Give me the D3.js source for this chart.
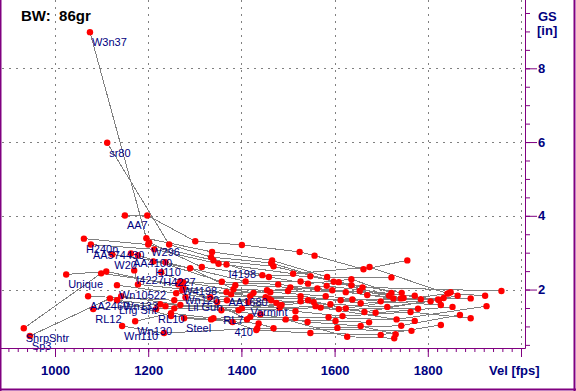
<!DOCTYPE html>
<html>
<head>
<meta charset="utf-8">
<script src="https://cdnjs.cloudflare.com/ajax/libs/d3/7.8.5/d3.min.js"></script>
<style>
body { margin: 0; background: #fff; }
svg { display: block; }
</style>
</head>
<body>
<svg width="576" height="391"></svg>
<script>
// group size vs velocity, one line per powder
var title = 'BW:  86gr';
var velTicks = [1000, 1200, 1400, 1600, 1800, 2000];
var velLabels = [1000, 1200, 1400, 1600, 1800];
var gsTicks = [2, 4, 6, 8];

var loadNames = ['W3n37', 'sr80', 'AA7', 'H240n', 'AA574430', 'W296', 'AA4100', 'W20',
  'H110', 'I4227', 'H4227', 'Unique', 'Wn10522', 'AA2460', 'RL12', 'Wn133', 'Lng Sht',
  'RL10', 'Wn130', 'Wn110', 'ShrpShtr', 'Sp3', 'Steel', 'Lil Gun', 'Wn120', 'W4198',
  'I4198', 'AA1680', 'Varmint', 'RL7', '410'];

var loadVel = [
  [1075, 1196, 1337, 1466, 1584, 1722],
  [1112, 1245, 1335, 1464, 1598, 1717],
  [1150, 1198, 1301, 1401, 1525, 1557, 1662, 1756],
  [1062, 1200, 1340, 1469, 1609, 1744],
  [1077, 1213, 1351, 1511, 1675, 1842],
  [1202, 1315, 1459, 1543, 1636, 1722],
  [1163, 1178, 1358, 1479, 1595, 1772],
  [1123, 1237, 1409, 1527, 1636, 1670],
  [1211, 1290, 1383, 1500, 1654, 1748],
  [1170, 1178, 1378, 1455, 1563, 1726],
  [1228, 1275, 1426, 1583, 1822, 1849],
  [1024, 1110, 1275, 1459, 1638, 1834],
  [1133, 1260, 1369, 1464, 1591, 1713, 1824],
  [1071, 1256, 1475, 1527, 1609, 1779],
  [1082, 1226, 1401, 1543, 1624, 1845, 1923],
  [1142, 1269, 1486, 1555, 1664, 1864],
  [1133, 1237, 1482, 1559, 1688, 1853],
  [1217, 1256, 1394, 1570, 1733, 1926],
  [1172, 1249, 1340, 1419, 1516, 1587, 1772],
  [1144, 1234, 1434, 1606, 1743, 1869],
  [933, 1099, 1265, 1412, 1602, 1674],
  [946, 1118, 1249, 1335, 1495, 1627, 1728],
  [1277, 1437, 1469, 1765],
  [1280, 1348, 1452, 1613, 1785, 1892],
  [1273, 1333, 1419, 1527, 1656, 1806],
  [1269, 1387, 1505, 1624, 1742],
  [1368, 1445, 1548, 1660, 1958],
  [1368, 1462, 1581, 1699, 1828],
  [1415, 1516, 1617, 1763, 1892],
  [1357, 1441, 1542, 1656, 1731],
  [1381, 1432, 1548, 1699, 1828]
];

var loadGs = [
  [8.98, 3.39, 3.02, 2.79, 2.34, 2.33],
  [5.98, 3.22, 2.88, 2.72, 2.21, 1.83],
  [4.01, 4.01, 3.31, 3.21, 3.02, 2.92, 2.55, 2.79],
  [3.38, 3.22, 2.79, 2.63, 2.2, 1.91],
  [3.22, 3.09, 2.7, 2.43, 2.61, 1.89],
  [3.28, 2.61, 2.34, 2.16, 2.28, 1.91],
  [2.98, 2.93, 2.21, 2.14, 1.98, 1.83],
  [2.95, 2.74, 2.22, 2.22, 2.12, 1.85],
  [2.76, 2.58, 2.01, 1.96, 1.96, 1.77],
  [2.52, 2.14, 1.87, 1.98, 2.03, 1.76],
  [2.47, 2.2, 1.91, 2.1, 1.73, 1.93],
  [2.41, 2.49, 2.06, 1.76, 1.73, 1.77],
  [2.12, 1.9, 1.71, 1.71, 1.6, 1.53, 1.71],
  [1.82, 1.71, 1.64, 1.68, 1.47, 1.48],
  [1.47, 1.6, 1.49, 1.71, 1.49, 1.9, 1.83],
  [1.82, 1.58, 1.58, 1.66, 1.39, 1.83],
  [1.71, 1.55, 1.5, 1.55, 1.37, 1.53],
  [1.47, 1.49, 1.44, 1.51, 1.19, 1.55],
  [1.14, 1.36, 1.22, 1.26, 1.23, 1.25, 1.15],
  [1.01, 0.82, 0.95, 0.96, 1.02, 1.31],
  [0.95, 2.44, 2.14, 1.19, 1.15, 1.11],
  [0.74, 1.76, 1.28, 1.19, 1.19, 0.72, 0.68],
  [1.22, 1.08, 0.95, 0.88],
  [1.79, 1.66, 1.79, 1.71, 1.74, 1.76],
  [1.98, 1.79, 1.82, 1.82, 1.63, 1.68],
  [2.22, 2.12, 2.06, 1.93, 1.76],
  [2.68, 2.39, 2.36, 2.06, 1.96],
  [1.93, 1.93, 1.82, 1.68, 1.58],
  [1.66, 1.41, 1.28, 1.39, 1.22],
  [1.44, 1.33, 1.12, 1.01, 0.79],
  [1.12, 0.9, 0.82, 0.77, 1.04]
];

var purple = '#800080';
var navy = '#000080';
var axisY = 348;
var axisX = 525;

const svg = d3.select('svg');

const x = d3.scaleLinear().domain([1000, 2000]).range([55, 521]);
const y = d3.scaleLinear().domain([0, 8]).range([363.3, 68.3]);

// build series from the arrays
var series = loadNames.map(function (name, i) {
  return {
    name: name,
    pts: loadVel[i].map(function (v, j) { return [v, loadGs[i][j]]; })
  };
});

// dotted grid
const grid = svg.append('g').attr('stroke', '#808080').attr('stroke-dasharray', '2,5');
grid.selectAll('.vg').data(velTicks).join('line')
  .attr('x1', d => Math.round(x(d)) + 0.5).attr('x2', d => Math.round(x(d)) + 0.5)
  .attr('y1', 0).attr('y2', axisY);
grid.selectAll('.hg').data(gsTicks).join('line')
  .attr('y1', d => Math.round(y(d)) + 0.5).attr('y2', d => Math.round(y(d)) + 0.5)
  .attr('x1', 2).attr('x2', x(2000));

// frame
svg.append('line').attr('x1', 0.5).attr('x2', 0.5).attr('y1', 0).attr('y2', 391)
  .attr('stroke', purple).attr('stroke-width', 2);
svg.append('line').attr('x1', 0).attr('x2', 576).attr('y1', 389.5).attr('y2', 389.5)
  .attr('stroke', purple).attr('stroke-width', 2);
svg.append('line').attr('x1', 574.5).attr('x2', 574.5).attr('y1', 0).attr('y2', 391)
  .attr('stroke', purple).attr('stroke-width', 2);

// lines
const line = d3.line().x(d => x(d[0])).y(d => y(d[1]));
svg.append('g').selectAll('path').data(series).join('path')
  .attr('d', d => line(d.pts))
  .attr('fill', 'none')
  .attr('stroke', '#808080')
  .attr('stroke-width', 1)
  .attr('shape-rendering', 'crispEdges');

// points
svg.append('g').selectAll('circle')
  .data(series.flatMap(s => s.pts))
  .join('circle')
  .attr('cx', d => x(d[0]))
  .attr('cy', d => y(d[1]))
  .attr('r', 3.2)
  .attr('fill', '#ff0000');

// labels at first point
svg.append('g').selectAll('text').data(series).join('text')
  .attr('x', d => x(d.pts[0][0]) + 2)
  .attr('y', d => y(d.pts[0][1]) + 14)
  .attr('fill', navy)
  .style('font', '11px "Liberation Sans", Arial, sans-serif')
  .text(d => d.name);

// axes
function styleAxis(g) {
  g.select('.domain').remove();
  g.selectAll('.tick line').attr('stroke', purple);
  g.selectAll('.tick text').attr('fill', navy)
    .style('font', 'bold 13px "Liberation Sans", Arial, sans-serif');
}

svg.append('g').attr('transform', 'translate(0,' + axisY + ')')
  .call(d3.axisBottom(x).tickValues(d3.range(900, 2001, 20)).tickSize(4).tickFormat(''))
  .call(styleAxis);
svg.append('g').attr('transform', 'translate(0,' + axisY + ')')
  .call(d3.axisBottom(x).tickValues(velTicks).tickSize(9).tickPadding(9)
    .tickFormat(d => velLabels.indexOf(d) >= 0 ? d3.format('d')(d) : ''))
  .call(styleAxis);

svg.append('g').attr('transform', 'translate(' + axisX + ',0)')
  .call(d3.axisRight(y).tickValues(d3.range(0.5, 10, 0.5).filter(v => y(v) < axisY && y(v) > 0)).tickSize(5).tickFormat(''))
  .call(styleAxis);
svg.append('g').attr('transform', 'translate(' + axisX + ',0)')
  .call(d3.axisRight(y).tickValues(gsTicks).tickSize(12).tickPadding(1))
  .call(styleAxis);

svg.append('line').attr('x1', 0).attr('x2', axisX + 0.5).attr('y1', axisY + 0.5).attr('y2', axisY + 0.5)
  .attr('stroke', purple);
svg.append('line').attr('x1', axisX + 0.5).attr('x2', axisX + 0.5).attr('y1', 0).attr('y2', axisY + 0.5)
  .attr('stroke', purple);

// axis titles
var bold = 'bold 13px "Liberation Sans", Arial, sans-serif';
svg.append('text').attr('x', 538).attr('y', 21).attr('fill', navy).style('font', bold).text('GS');
svg.append('text').attr('x', 537).attr('y', 35).attr('fill', navy).style('font', bold).text('[in]');
svg.append('text').attr('x', 489).attr('y', 375).attr('fill', navy).style('font', bold).text('Vel [fps]');

svg.append('text').attr('x', 21).attr('y', 21)
  .style('font', 'bold 15px "Liberation Sans", Arial, sans-serif')
  .style('white-space', 'pre')
  .attr('fill', '#000')
  .text(title);
</script>
</body>
</html>
